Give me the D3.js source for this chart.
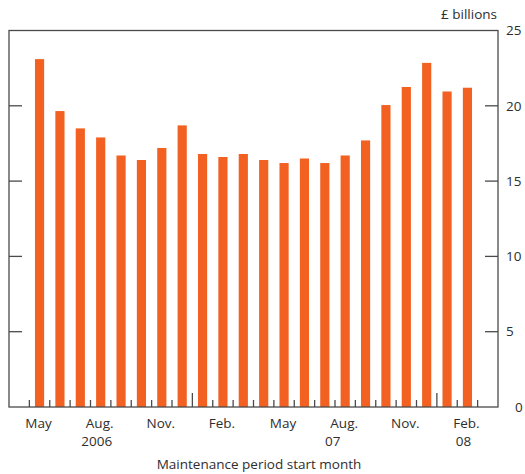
<!DOCTYPE html>
<html>
<head>
<meta charset="utf-8">
<script src="https://cdn.jsdelivr.net/npm/d3@7"></script>
<style>
  html, body { margin: 0; padding: 0; background: #fff; }
  text { font-family: "Open Sans", "Noto Sans", sans-serif; fill: #2e2e2e; }
</style>
</head>
<body>
<svg id="chart" width="525" height="474"></svg>
<script>
// ---- data ----
const months = ["2006-05","2006-06","2006-07","2006-08","2006-09","2006-10","2006-11","2006-12",
                "2007-01","2007-02","2007-03","2007-04","2007-05","2007-06","2007-07","2007-08",
                "2007-09","2007-10","2007-11","2007-12","2008-01","2008-02"];
const values = [23.1, 19.65, 18.5, 17.9, 16.7, 16.4, 17.2, 18.7,
                16.8, 16.6, 16.8, 16.4, 16.2, 16.5, 16.2, 16.7,
                17.7, 20.05, 21.25, 22.85, 20.95, 21.2];
const yTicks = [0, 5, 10, 15, 20, 25];
const monthLabelAt = ["2006-05","2006-08","2006-11","2007-02","2007-05","2007-08","2007-11","2008-02"];
const monthLabelText = ["May","Aug.","Nov.","Feb.","May","Aug.","Nov.","Feb."];
const yearLabelAt = ["2006-08","2007-07","2008-02"];
const yearLabelText = ["2006","07","08"];
const unitLabel = "£ billions";
const xTitle = "Maintenance period start month";

// ---- layout ----
const svg = d3.select("#chart");
const L = 9, R = 498, T = 30.5, B = 407;
const FS = 13.5;
const fmt = d3.timeFormat("%Y-%m");
const axisMonths = d3.timeMonth.range(new Date(2006, 3, 1), new Date(2008, 3, 1)).map(fmt);

const x = d3.scaleBand().domain(axisMonths).range([L, R]).paddingInner(0.55).paddingOuter(0.275);
const y = d3.scaleLinear().domain([0, 25]).range([B, T]);
const step = x.step();
const boundary = m => x(m) - step * 0.275;

// bars
svg.append("g").selectAll("rect")
  .data(months.map((m, i) => ({m, v: values[i]})))
  .join("rect")
  .attr("x", d => x(d.m))
  .attr("width", x.bandwidth())
  .attr("y", d => y(d.v))
  .attr("height", d => y(0) - y(d.v))
  .attr("fill", "#f26122");

const axisColor = "#4a4a4a";
// frame
svg.append("rect").attr("x", L).attr("y", T).attr("width", R - L).attr("height", B - T)
  .attr("fill", "none").attr("stroke", axisColor).attr("stroke-width", 1.3);

// y ticks both sides (inward)
const inner = yTicks.filter(t => t > 0 && t < 25);
svg.append("g").selectAll("line.l").data(inner).join("line")
  .attr("x1", L).attr("x2", L + 13).attr("y1", d => y(d)).attr("y2", d => y(d))
  .attr("stroke", axisColor).attr("stroke-width", 1.3);
svg.append("g").selectAll("line.r").data(inner).join("line")
  .attr("x1", R - 13).attr("x2", R).attr("y1", d => y(d)).attr("y2", d => y(d))
  .attr("stroke", axisColor).attr("stroke-width", 1.3);

// y labels right
svg.append("g").selectAll("text").data(yTicks).join("text")
  .attr("x", d => d === 0 ? 515 : 506).attr("y", d => y(d)).attr("dy", "0.35em")
  .attr("font-size", FS).text(d => d);

// unit label
svg.append("text").attr("x", 497).attr("y", 19).attr("text-anchor", "end")
  .attr("font-size", FS).text(unitLabel);

// x ticks at month boundaries
const tickMonths = axisMonths.slice(1);
svg.append("g").selectAll("line").data(tickMonths).join("line")
  .attr("x1", d => boundary(d)).attr("x2", d => boundary(d))
  .attr("y1", B).attr("y2", d => d.endsWith("-01") ? B - 14 : B - 7)
  .attr("stroke", axisColor).attr("stroke-width", 1.3);

// month labels
svg.append("g").selectAll("text").data(monthLabelAt).join("text")
  .attr("x", d => x(d) + x.bandwidth() / 2 - 1).attr("y", 428)
  .attr("text-anchor", "middle").attr("font-size", FS)
  .text((d, i) => monthLabelText[i]);

svg.append("g").selectAll("text").data(yearLabelAt).join("text")
  .attr("x", (d, i) => x(d) + x.bandwidth() / 2 + (i === 0 ? -4 : (i === 1 ? 8 : -4)))
  .attr("y", 446)
  .attr("text-anchor", "middle").attr("font-size", FS)
  .text((d, i) => yearLabelText[i]);

svg.append("text").attr("x", 259).attr("y", 469).attr("text-anchor", "middle")
  .attr("font-size", FS).text(xTitle);
</script>
</body>
</html>
